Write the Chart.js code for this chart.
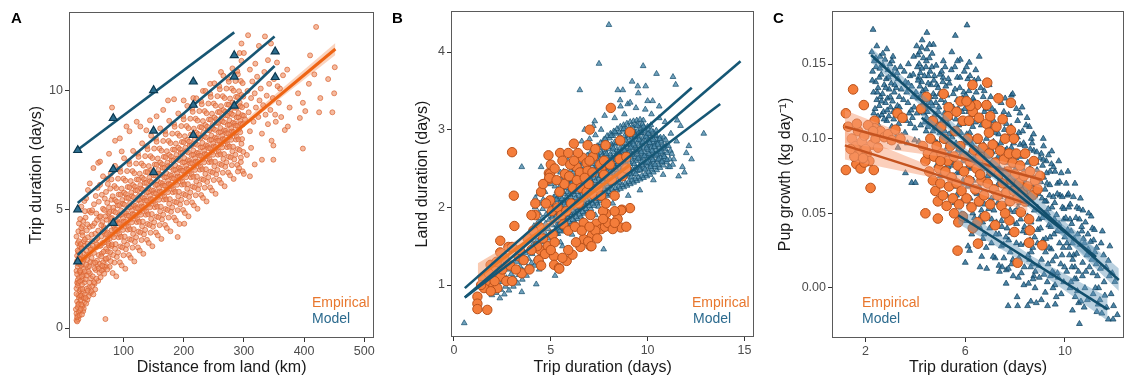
<!DOCTYPE html>
<html>
<head>
<meta charset="utf-8">
<script src="https://cdn.jsdelivr.net/npm/chart.js@4.4.1/dist/chart.umd.min.js"></script>
<style>
  body { margin: 0; background: #fff; width: 1130px; height: 379px; overflow: hidden; position: relative; font-family: "Liberation Sans", Arial, sans-serif; }
  canvas { position: absolute; top: 0; }
  .tag { position: absolute; font-weight: bold; font-size: 15px; line-height: 16px; color: #000; }
  .leg { position: absolute; font-size: 14px; line-height: 16px; }
  .emp { color: #e8772e; }
  .mod { color: #2b6a8e; }
</style>
</head>
<body>
<canvas id="chartA" width="380" height="379" style="left:0"></canvas>
<canvas id="chartB" width="380" height="379" style="left:380px"></canvas>
<canvas id="chartC" width="370" height="379" style="left:760px"></canvas>

<div class="tag" style="left:11px;top:10px">A</div>
<div class="tag" style="left:392px;top:10px">B</div>
<div class="tag" style="left:773px;top:10px">C</div>

<div class="leg emp" style="left:312px;top:294px">Empirical</div>
<div class="leg mod" style="left:312px;top:310px">Model</div>
<div class="leg emp" style="left:692px;top:294px">Empirical</div>
<div class="leg mod" style="left:693px;top:310px">Model</div>
<div class="leg emp" style="left:862px;top:294px">Empirical</div>
<div class="leg mod" style="left:862px;top:310px">Model</div>

<script>
// ---------- panel A : distance from land vs trip duration ----------
const xTicksA = [100, 200, 300, 400, 500];
const yTicksA = [0, 5, 10];

const empiricalA = [
  // near-shore trips (dense column)
  [22,0.33],[23,1.12],[22,2.41],[21,0.79],[23,3.05],[22,1.67],[24,0.52],[23,2.83],[25,1.39],[24,3.58],[22,0.61],[26,2.14],[25,0.37],[23,1.91],
  [24,2.59],[26,1.03],[25,3.21],[24,0.88],[27,1.56],[26,2.97],[25,4.08],[23,0.46],[27,2.36],[26,0.68],[24,1.79],[25,2.71],[27,3.44],[26,1.28],
  [22,3.86],[24,2.02],[23,0.28],[25,0.99],[27,0.53],[29,1.63],[31,1.29],[33,0.71],[35,1.92],[22,1.44],[24,3.27],[26,3.66],[28,1.34],[30,3.38],
  [32,2.06],[34,0.82],[26,4.41],[23,2.27],[27,2.92],[29,2.34],[31,4.03],[33,3.17],[35,3.48],[25,1.9],[28,2.71],[32,4.29],[34,2.89],
  [28,0.74],[30,2.63],[29,1.18],[31,3.37],[28,1.96],[32,0.94],[30,4.21],[29,2.88],[33,1.51],[31,0.57],[28,3.12],[34,2.27],[30,1.37],[32,3.91],
  [29,0.81],[33,2.49],[35,1.08],[31,1.83],[34,3.66],[28,2.42],[32,1.64],[35,2.96],[30,0.99],[33,4.52],[29,3.54],[31,2.18],[34,1.27],[32,2.71],
  [35,5.36],[30,5.12],[28,4.6],
  [36,1.41],[38,3.27],[37,2.06],[40,1.19],[39,4.12],[41,2.58],[36,3.74],[43,1.72],[38,1.03],[42,3.09],[44,2.31],[37,4.66],[40,2.87],[45,1.48],
  [39,1.66],[41,3.83],[43,2.61],[36,2.39],[44,4.27],[38,2.67],[42,1.34],[45,3.38],[40,3.55],[37,1.27],[43,4.94],[39,2.22],[41,1.58],[44,1.91],
  [42,2.38],[45,2.79],[38,5.47],[41,5.82],[44,6.1],[36,4.93],[40,4.37],
  [46,2.09],[48,3.66],[47,1.54],[50,2.74],[49,4.31],[52,1.87],[51,3.17],[46,4.87],[54,2.45],[53,3.98],[48,1.77],[55,3.41],[50,1.42],[57,2.61],
  [56,4.56],[47,2.96],[59,3.08],[52,2.52],[58,1.99],[51,5.22],[54,3.72],[60,2.33],[49,2.18],[56,2.84],[53,1.63],[58,4.11],[46,3.31],[57,3.79],
  [55,2.08],[60,4.68],[48,4.97],[52,4.42],[59,2.51],[51,1.93],[54,5.57],[50,6.75],[58,6.97],[47,3.94],[53,2.76],[56,3.53],[59,5.33],[55,4.83],
  [49,3.47],[57,5.91],[60,3.47],
  [61,2.71],[63,3.86],[62,2.14],[65,4.47],[64,3.14],[67,2.49],[66,5.03],[68,3.61],[70,2.87],[69,4.19],[71,3.33],[73,5.28],[72,2.61],[74,4.02],
  [76,3.48],[75,2.96],[78,4.63],[77,3.77],[79,2.82],[80,5.41],[62,4.71],[64,5.62],[66,2.77],[68,4.98],[70,3.94],[72,4.57],[74,3.23],[76,5.09],
  [78,3.19],[80,4.12],[63,3.02],[65,3.58],[67,4.26],[69,2.58],[71,5.74],[73,3.71],[75,4.84],[77,2.58],[79,4.41],[61,6.04],[64,2.42],[67,3.22],
  [70,0.38],[73,6.3],[76,7.35],[79,6.52],[81,9.3],[61,7.02],[66,6.4],[72,3.97],[75,3.56],[78,5.88],[68,2.29],[62,3.47],[65,2.63],[69,5.46],
  [71,2.93],[74,6.08],[77,4.89],[80,3.46],[63,4.34],[66,4.08],[70,4.71],[73,2.47],
  // main cloud
  [82,2.32],[83,3.08],[81,3.53],[82,3.94],[84,4.31],[81,4.64],[83,5.08],[82,5.56],[80,6.27],
  [85,2.76],[86,3.34],[84,3.83],[85,4.18],[87,4.55],[84,4.93],[86,5.4],[85,5.99],[86,7.9],
  [88,2.18],[89,3.0],[87,3.54],[88,4.16],[90,4.52],[87,4.88],[89,5.33],[88,5.9],[86,6.84],
  [91,3.19],[92,3.83],[90,4.07],[91,4.42],[93,4.76],[90,5.17],[92,5.63],[91,6.3],
  [94,2.77],[95,3.44],[93,3.96],[94,4.42],[96,4.78],[93,5.18],[95,5.63],[94,6.72],[94,8.0],
  [97,2.64],[98,3.4],[96,3.85],[97,4.26],[99,4.63],[96,4.96],[98,5.4],[97,5.88],[95,6.59],[97,7.45],
  [100,3.07],[101,3.65],[99,4.14],[100,4.49],[102,4.86],[99,5.24],[101,5.71],[100,6.3],
  [103,2.5],[104,3.32],[102,3.86],[103,4.48],[105,4.84],[102,5.2],[104,5.65],[103,6.22],[101,7.16],[105,8.5],
  [106,3.51],[107,4.15],[105,4.39],[106,4.74],[108,5.08],[105,5.49],[107,5.95],[106,6.62],
  [109,3.08],[110,3.75],[108,4.27],[109,4.73],[111,5.09],[108,5.49],[110,5.94],[109,7.03],[110,8.3],
  [112,2.96],[113,3.72],[111,4.17],[112,4.58],[114,4.95],[111,5.28],[113,5.72],[112,6.2],[110,6.91],
  [115,3.39],[116,3.97],[114,4.46],[115,4.81],[117,5.18],[114,5.56],[116,6.03],[115,6.62],
  [118,2.81],[119,3.63],[117,4.17],[118,4.79],[120,5.15],[117,5.51],[119,5.96],[118,6.53],[116,7.47],
  [121,3.83],[122,4.47],[120,4.71],[121,5.06],[123,5.4],[120,5.81],[122,6.27],[121,6.94],[122,8.7],
  [124,3.4],[125,4.07],[123,4.59],[124,5.05],[126,5.41],[123,5.81],[125,6.26],[124,7.35],
  [127,3.27],[128,4.03],[126,4.48],[127,4.89],[129,5.26],[126,5.59],[128,6.03],[127,6.51],[125,7.22],[128,8.5],
  [130,3.71],[131,4.29],[129,4.78],[130,5.13],[132,5.5],[129,5.88],[131,6.35],[130,6.94],
  [133,3.13],[134,3.95],[132,4.49],[133,5.11],[135,5.47],[132,5.83],[134,6.28],[133,6.85],[131,7.79],
  [136,4.14],[137,4.78],[135,5.02],[136,5.37],[138,5.71],[135,6.12],[137,6.58],[136,7.25],[138,8.34],
  [139,3.72],[140,4.39],[138,4.91],[139,5.37],[141,5.73],[138,6.13],[140,6.58],[139,7.67],
  [142,3.59],[143,4.35],[141,4.8],[142,5.21],[144,5.58],[141,5.91],[143,6.35],[142,6.83],[140,7.54],
  [145,4.02],[146,4.6],[144,5.09],[145,5.44],[147,5.81],[144,6.19],[146,6.66],[145,7.25],[144,8.76],
  [148,3.45],[149,4.27],[147,4.81],[148,5.43],[150,5.79],[147,6.15],[149,6.6],[148,7.17],[146,8.11],
  [151,4.46],[152,5.1],[150,5.34],[151,5.69],[153,6.03],[150,6.44],[152,6.9],[151,7.57],
  [154,4.03],[155,4.7],[153,5.22],[154,5.68],[156,6.04],[153,6.44],[155,6.89],[154,7.98],[155,8.93],
  [157,3.91],[158,4.67],[156,5.12],[157,5.53],[159,5.9],[156,6.23],[158,6.67],[157,7.15],[155,7.86],
  [160,4.34],[161,4.92],[159,5.41],[160,5.76],[162,6.13],[159,6.51],[161,6.98],[160,7.57],
  [163,3.76],[164,4.58],[162,5.12],[163,5.74],[165,6.1],[162,6.46],[164,6.91],[163,7.48],[161,8.42],
  [166,4.78],[167,5.42],[165,5.66],[166,6.01],[168,6.35],[165,6.76],[167,7.22],[166,7.89],[166,9.2],
  [169,4.35],[170,5.02],[168,5.54],[169,6.0],[171,6.36],[168,6.76],[170,7.21],[169,8.3],
  [172,4.22],[173,4.98],[171,5.43],[172,5.84],[174,6.21],[171,6.54],[173,6.98],[172,7.46],[170,8.17],[174,9.6],
  [175,4.66],[176,5.24],[174,5.73],[175,6.08],[177,6.45],[174,6.83],[176,7.3],[175,7.89],
  [178,4.08],[179,4.9],[177,5.44],[178,6.06],[180,6.42],[177,6.78],[179,7.23],[178,7.8],[176,8.74],
  [181,5.09],[182,5.73],[180,5.97],[181,6.32],[183,6.66],[180,7.07],[182,7.53],[181,8.2],[184,9.65],
  [184,4.66],[185,5.33],[183,5.85],[184,6.31],[186,6.67],[183,7.07],[185,7.52],[184,8.61],
  [187,4.54],[188,5.3],[186,5.75],[187,6.16],[189,6.53],[186,6.86],[188,7.3],[187,7.78],[185,8.49],[190,3.84],
  [190,4.97],[191,5.55],[189,6.04],[190,6.39],[192,6.76],[189,7.14],[191,7.61],[190,8.2],
  [193,4.39],[194,5.21],[192,5.75],[193,6.37],[195,6.73],[192,7.09],[194,7.54],[193,8.11],[191,9.05],
  [196,5.41],[197,6.05],[195,6.29],[196,6.64],[198,6.98],[195,7.39],[197,7.85],[196,8.52],
  [199,4.98],[200,5.65],[198,6.17],[199,6.63],[201,6.99],[198,7.39],[200,7.84],[199,8.93],[200,9.6],[201,4.4],
  [202,4.85],[203,5.61],[201,6.06],[202,6.47],[204,6.84],[201,7.17],[203,7.61],[202,8.09],[200,8.8],
  [205,5.29],[206,5.87],[204,6.36],[205,6.71],[207,7.08],[204,7.46],[206,7.93],[205,8.52],
  [208,4.71],[209,5.53],[207,6.07],[208,6.69],[210,7.05],[207,7.41],[209,7.86],[208,8.43],[206,9.37],
  [211,5.72],[212,6.36],[210,6.6],[211,6.95],[213,7.29],[210,7.7],[212,8.16],[211,8.83],
  [214,5.3],[215,5.97],[213,6.49],[214,6.95],[216,7.31],[213,7.71],[215,8.16],[214,9.25],
  [217,5.17],[218,5.93],[216,6.38],[217,6.79],[219,7.16],[216,7.49],[218,7.93],[217,8.41],[215,9.12],[216,9.7],
  [220,5.6],[221,6.18],[219,6.67],[220,7.02],[222,7.39],[219,7.77],[221,8.24],[220,8.83],
  [223,5.03],[224,5.85],[222,6.39],[223,7.01],[225,7.37],[222,7.73],[224,8.18],[223,8.75],[221,9.69],
  [226,6.04],[227,6.68],[225,6.92],[226,7.27],[228,7.61],[225,8.02],[227,8.48],[226,9.15],
  [229,5.61],[230,6.28],[228,6.8],[229,7.26],[231,7.62],[228,8.02],[230,8.47],[229,9.56],
  [232,5.49],[233,6.25],[231,6.7],[232,7.11],[234,7.48],[231,7.81],[233,8.25],[232,8.73],[230,9.44],[232,10.0],
  [235,5.92],[236,6.5],[234,6.99],[235,7.34],[237,7.71],[234,8.09],[236,8.56],[235,9.15],
  [238,5.34],[239,6.16],[237,6.7],[238,7.32],[240,7.68],[237,8.04],[239,8.49],[238,9.06],[236,10.0],
  [241,6.36],[242,7.0],[240,7.24],[241,7.59],[243,7.93],[240,8.34],[242,8.8],[241,9.47],
  [244,5.93],[245,6.6],[243,7.12],[244,7.58],[246,7.94],[243,8.34],[245,8.79],[244,9.88],[244,10.3],
  [247,5.8],[248,6.56],[246,7.01],[247,7.42],[249,7.79],[246,8.12],[248,8.56],[247,9.04],[245,9.75],
  [250,6.24],[251,6.82],[249,7.31],[250,7.66],[252,8.03],[249,8.41],[251,8.88],[250,9.47],
  [253,5.66],[254,6.48],[252,7.02],[253,7.64],[255,8.0],[252,8.36],[254,8.81],[253,9.38],[251,10.32],
  [256,6.67],[257,7.31],[255,7.55],[256,7.9],[258,8.24],[255,8.65],[257,9.11],[256,9.78],
  [259,6.25],[260,6.92],[258,7.44],[259,7.9],[261,8.26],[258,8.66],[260,9.11],[259,10.2],
  [262,6.12],[263,6.88],[261,7.33],[262,7.74],[264,8.11],[261,8.44],[263,8.88],[262,9.36],[260,10.07],[262,10.8],
  [265,6.55],[266,7.13],[264,7.62],[265,7.97],[267,8.34],[264,8.72],[266,9.19],[265,9.78],
  [268,5.98],[269,6.8],[267,7.34],[268,7.96],[270,8.32],[267,8.68],[269,9.13],[268,9.7],[266,10.64],
  [271,6.99],[272,7.63],[270,7.87],[271,8.22],[273,8.56],[270,8.97],[272,9.43],[271,10.1],
  [274,6.56],[275,7.23],[273,7.75],[274,8.21],[276,8.57],[273,8.97],[275,9.42],[274,10.51],
  [277,6.44],[278,7.2],[276,7.65],[277,8.06],[279,8.43],[276,8.76],[278,9.2],[277,9.68],[275,10.39],
  [280,6.87],[281,7.45],[279,7.94],[280,8.29],[282,8.66],[279,9.04],[281,9.51],[280,10.1],
  [283,6.29],[284,7.11],[282,7.65],[283,8.27],[285,8.63],[282,8.99],[284,9.44],[283,10.01],[281,10.95],
  [286,7.31],[287,7.95],[285,8.19],[286,8.54],[288,8.88],[285,9.29],[287,9.75],[286,10.42],
  [289,6.88],[290,7.55],[288,8.07],[289,8.53],[291,8.89],[288,9.29],[290,9.74],[289,10.83],
  [292,6.75],[293,7.51],[291,7.96],[292,8.37],[294,8.74],[291,9.07],[293,9.51],[292,9.99],[290,10.7],[293,11.6],
  [295,7.19],[296,7.77],[294,8.26],[295,8.61],[297,8.98],[294,9.36],[296,9.83],[295,10.42],
  [298,6.61],[299,7.43],[297,7.97],[298,8.59],[300,8.95],[297,9.31],[299,9.76],[298,10.33],[296,11.27],[296,12.0],
  // far-offshore trips
  [307,12.35],[335,12.3],[319,11.15],[372,10.9],[365,10.66],[376,9.3],[368,8.35],[373,8.5],[353,8.7],[349,7.1],[330,7.1],[349,7.7],
  [420,12.7],[451,11.0],[450,9.9],[447,9.1],[440,10.5],[425,9.1],[427,9.7],[410,11.5],[417,10.7],[408,10.3],[398,7.57],[402,9.15],[390,9.9],[393,8.86],[398,9.5],
  [302,8.8],[304,9.4],[306,10.0],[308,9.1],[310,8.3],[312,9.7],[314,10.4],[316,8.7],[318,9.9],[320,9.3],[322,10.6],[324,8.9],[326,9.6],[328,10.1],[330,8.2],
  [332,9.4],[334,10.8],[336,9.0],[338,9.8],[340,8.6],[342,10.3],[344,9.2],[346,7.9],[348,9.7],[350,10.5],[352,9.0],[355,11.2],[358,9.5],[360,10.1],[362,8.9],
  [300,11.6],[310,10.9],[325,11.9],[340,11.3],[345,12.0],[356,10.2],[312,7.6],[305,7.3],[318,6.9],[300,6.5],[310,6.4],[290,6.6],[295,7.0]
];
const modelA = [
  [24,7.5],[24,5.0],[24,2.8],[83,8.85],[83,6.7],[83,4.43],[150,10.03],[150,8.32],[150,6.57],
  [216,10.39],[216,9.41],[216,8.14],[284,11.5],[284,10.6],[284,9.37],[352,11.66],[352,10.58]
];
const empLineA = [[25,2.75],[452,11.77]];
const empBandLowA = [[25,2.58],[240,7.28],[452,11.52]];
const empBandHighA = [[25,2.92],[240,7.42],[452,12.02]];
const modLinesA = [
  [[24,7.52],[284,12.47]],
  [[24,5.27],[351,12.3]],
  [[24,3.08],[351,11.05]]
];

// ---------- panel B : trip duration vs land duration ----------
const xTicksB = [0, 5, 10, 15];
const yTicksB = [1, 2, 3, 4];

const modelB = [
  [0.53,0.51],[3.5,0.91],[4.25,1.01],[5.22,1.12],[3.98,1.23],[4.4,1.2],[7.73,1.46],[8.0,4.35],[7.49,3.85],[9.77,3.82],[10.46,3.72],[11.31,3.68],
  [11.45,3.58],[9.2,3.62],[9.49,3.56],[9.9,3.56],[6.5,3.51],[8.46,3.51],[8.72,3.51],[9.52,3.47],[8.58,3.38],[8.97,3.33],[10.0,3.37],[10.26,3.37],
  [9.88,3.26],[7.27,3.11],[7.78,3.18],[6.75,3.0],[11.53,3.12],[11.7,3.05],[12.9,2.95],[12.13,2.79],[12.27,2.62],[11.8,2.52],[11.07,2.52],[3.5,2.52],[4.5,2.52],
  [1.72,0.93],[1.85,1.01],[1.96,0.87],[2.04,0.96],[2.11,1.07],[2.18,0.9],[2.26,1.0],[2.3,1.12],[2.37,0.83],[2.42,0.94],[2.49,1.04],[2.53,1.17],
  [2.6,0.88],[2.66,0.98],[2.71,1.09],[2.77,1.2],[2.84,0.93],[2.9,1.03],[2.95,1.14],[3.01,1.26],[3.07,0.98],[3.13,1.08],[3.18,1.19],[3.24,1.3],
  [3.3,1.02],[3.36,1.13],[3.41,1.24],[3.47,1.36],[3.53,1.07],[3.58,1.18],[3.63,1.29],[3.69,1.41],[3.75,1.12],[3.8,1.23],[3.85,1.34],[3.91,1.46],[3.96,1.58],[4.0,1.28],
  [4.04,1.4],[4.07,1.52],[4.1,1.64],[4.13,1.76],[4.16,1.88],[4.19,2.0],[4.22,1.33],[4.25,1.45],[4.28,1.57],[4.31,1.69],[4.34,1.81],[4.37,1.93],[4.4,2.05],
  [4.43,1.38],[4.46,1.5],[4.49,1.62],[4.52,1.74],[4.55,1.86],[4.58,1.98],[4.61,2.1],[4.64,1.43],[4.67,1.55],[4.7,1.67],[4.73,1.79],[4.76,1.91],[4.79,2.03],
  [4.82,1.48],[4.85,1.6],[4.88,1.72],[4.91,1.84],[4.94,1.96],[4.97,2.08],[5.0,1.53],[5.03,1.65],[5.06,1.77],[5.09,1.89],[5.12,2.01],[5.15,2.13],[4.2,2.12],[4.35,2.17],[4.15,1.25],[4.5,1.32],
  [5.2,1.6],[5.24,1.71],[5.18,1.82],[5.22,1.93],[5.19,2.04],[5.25,2.15],[5.21,2.27],
  [5.37,1.66],[5.4,1.77],[5.34,1.88],[5.39,1.99],[5.35,2.1],[5.41,2.21],[5.36,2.32],
  [5.54,1.69],[5.57,1.8],[5.51,1.91],[5.56,2.02],[5.52,2.13],[5.58,2.24],[5.53,2.36],
  [5.71,1.72],[5.74,1.84],[5.68,1.95],[5.73,2.06],[5.69,2.17],[5.75,2.28],[5.7,2.4],
  [5.88,1.75],[5.91,1.87],[5.85,1.98],[5.9,2.09],[5.86,2.2],[5.92,2.31],[5.87,2.44],
  [6.05,1.78],[6.08,1.9],[6.02,2.01],[6.07,2.12],[6.03,2.23],[6.09,2.35],[6.04,2.48],
  [6.22,1.82],[6.25,1.93],[6.19,2.05],[6.24,2.16],[6.2,2.27],[6.26,2.39],[6.21,2.51],
  [6.39,1.85],[6.42,1.97],[6.36,2.08],[6.41,2.2],[6.37,2.31],[6.43,2.43],[6.38,2.55],
  [6.56,1.88],[6.59,2.0],[6.53,2.12],[6.58,2.23],[6.54,2.35],[6.6,2.47],[6.55,2.59],
  [6.73,1.92],[6.76,2.04],[6.7,2.15],[6.75,2.27],[6.71,2.39],[6.77,2.51],[6.72,2.63],
  [6.9,1.95],[6.93,2.07],[6.87,2.19],[6.92,2.31],[6.88,2.43],[6.94,2.55],[6.89,2.67],
  [7.07,1.98],[7.1,2.1],[7.04,2.22],[7.09,2.34],[7.05,2.46],[7.11,2.58],[7.06,2.71],
  [7.24,2.02],[7.27,2.14],[7.21,2.26],[7.26,2.38],[7.22,2.5],[7.28,2.62],[7.23,2.75],
  [7.41,2.05],[7.44,2.17],[7.38,2.29],[7.43,2.41],[7.39,2.53],[7.45,2.66],[7.4,2.79],
  [7.58,2.08],[7.61,2.2],[7.55,2.32],[7.6,2.44],[7.56,2.57],[7.62,2.7],[7.57,2.83],
  [7.75,2.12],[7.78,2.24],[7.72,2.36],[7.77,2.48],[7.73,2.61],[7.79,2.74],[7.74,2.87],
  [7.92,2.15],[7.95,2.27],[7.89,2.39],[7.94,2.52],[7.9,2.65],[7.96,2.78],[7.91,2.92],
  [8.09,2.17],[8.12,2.3],[8.06,2.42],[8.11,2.55],[8.07,2.68],[8.13,2.81],[8.08,2.95],
  [8.26,2.2],[8.29,2.32],[8.23,2.45],[8.28,2.58],[8.24,2.71],[8.3,2.84],[8.25,2.98],
  [8.43,2.22],[8.46,2.35],[8.4,2.48],[8.45,2.61],[8.41,2.74],[8.47,2.87],[8.42,3.01],
  [8.6,2.24],[8.63,2.37],[8.57,2.5],[8.62,2.63],[8.58,2.76],[8.64,2.89],[8.59,3.04],
  [8.77,2.26],[8.8,2.39],[8.74,2.52],[8.79,2.65],[8.75,2.78],[8.81,2.92],[8.76,3.06],
  [8.94,2.28],[8.97,2.41],[8.91,2.54],[8.96,2.67],[8.92,2.8],[8.98,2.94],[8.93,3.08],
  [9.11,2.3],[9.14,2.43],[9.08,2.56],[9.13,2.69],[9.09,2.82],[9.15,2.96],[9.1,3.1],
  [9.28,2.32],[9.31,2.45],[9.25,2.58],[9.3,2.71],[9.26,2.84],[9.32,2.97],[9.27,3.11],
  [9.45,2.34],[9.48,2.47],[9.42,2.6],[9.47,2.73],[9.43,2.86],[9.49,2.99],[9.44,3.12],
  [9.62,2.36],[9.65,2.49],[9.59,2.62],[9.64,2.75],[9.6,2.88],[9.66,3.01],[9.61,3.13],
  [9.79,2.38],[9.82,2.51],[9.76,2.64],[9.81,2.77],[9.77,2.9],[9.83,3.02],[9.78,3.12],
  [9.96,2.4],[9.99,2.53],[9.93,2.66],[9.98,2.79],[9.94,2.92],[10.0,3.04],
  [10.13,2.42],[10.16,2.55],[10.1,2.68],[10.15,2.81],[10.11,2.94],[10.17,3.06],
  [10.3,2.45],[10.33,2.58],[10.27,2.71],[10.32,2.84],[10.28,2.97],
  [10.47,2.48],[10.5,2.61],[10.44,2.74],[10.49,2.87],[10.45,2.99],
  [10.64,2.51],[10.67,2.64],[10.61,2.77],[10.66,2.9],
  [10.81,2.54],[10.84,2.67],[10.78,2.8],[10.83,2.9],
  [10.98,2.58],[11.01,2.7],[10.95,2.8],[11.15,2.62],[11.18,2.73],
  [5.29,1.66],[5.31,1.77],[5.27,1.88],[5.3,1.99],[5.28,2.1],[5.32,2.21],
  [5.46,1.7],[5.48,1.83],[5.44,1.94],[5.47,2.05],[5.45,2.16],[5.49,2.28],
  [5.63,1.74],[5.65,1.86],[5.61,1.97],[5.64,2.08],[5.62,2.2],[5.66,2.32],
  [5.8,1.78],[5.82,1.9],[5.78,2.01],[5.81,2.13],[5.79,2.25],[5.83,2.37],
  [5.97,1.81],[5.99,1.93],[5.95,2.05],[5.98,2.17],[5.96,2.29],[6.0,2.41],
  [6.14,1.84],[6.16,1.96],[6.12,2.08],[6.15,2.2],[6.13,2.32],[6.17,2.45],
  [6.31,1.88],[6.33,2.0],[6.29,2.12],[6.32,2.24],[6.3,2.36],[6.34,2.49],
  [6.48,1.91],[6.5,2.03],[6.46,2.15],[6.49,2.28],[6.47,2.4],[6.51,2.53],
  [6.65,1.94],[6.67,2.06],[6.63,2.19],[6.66,2.32],[6.64,2.44],[6.68,2.57],
  [6.82,1.98],[6.84,2.1],[6.8,2.23],[6.83,2.36],[6.81,2.48],[6.85,2.61],
  [6.99,2.02],[7.01,2.14],[6.97,2.27],[7.0,2.4],[6.98,2.52],[7.02,2.65],
  [7.16,2.05],[7.18,2.18],[7.14,2.31],[7.17,2.44],[7.15,2.56],[7.19,2.69],
  [7.33,2.08],[7.35,2.21],[7.31,2.34],[7.34,2.47],[7.32,2.6],[7.36,2.73],
  [7.5,2.11],[7.52,2.24],[7.48,2.37],[7.51,2.5],[7.49,2.63],[7.53,2.77],
  [7.67,2.14],[7.69,2.27],[7.65,2.4],[7.68,2.53],[7.66,2.67],[7.7,2.81],
  [7.84,2.17],[7.86,2.3],[7.82,2.43],[7.85,2.57],[7.83,2.71],[7.87,2.85],
  [8.01,2.2],[8.03,2.33],[7.99,2.47],[8.02,2.61],[8.0,2.75],[8.04,2.89],
  [8.18,2.23],[8.2,2.36],[8.16,2.5],[8.19,2.64],[8.17,2.78],[8.21,2.92],
  [8.35,2.25],[8.37,2.39],[8.33,2.53],[8.36,2.67],[8.34,2.81],[8.38,2.95],
  [8.52,2.27],[8.54,2.41],[8.5,2.55],[8.53,2.69],[8.51,2.83],[8.55,2.97],
  [8.69,2.29],[8.71,2.43],[8.67,2.57],[8.7,2.71],[8.68,2.85],[8.72,2.99],
  [8.86,2.31],[8.88,2.45],[8.84,2.59],[8.87,2.73],[8.85,2.87],[8.89,3.01],
  [9.03,2.33],[9.05,2.47],[9.01,2.61],[9.04,2.75],[9.02,2.89],[9.06,3.03],
  [9.2,2.35],[9.22,2.49],[9.18,2.63],[9.21,2.77],[9.19,2.91],[9.23,3.05],
  [9.37,2.37],[9.39,2.51],[9.35,2.65],[9.38,2.79],[9.36,2.93],[9.4,3.06],
  [9.54,2.39],[9.56,2.53],[9.52,2.67],[9.55,2.81],[9.53,2.95],[9.57,3.07],
  [9.71,2.41],[9.73,2.55],[9.69,2.69],[9.72,2.83],[9.7,2.96],[9.74,3.07],
  [9.88,2.43],[9.9,2.57],[9.86,2.71],[9.89,2.85],[9.87,2.98],
  [10.05,2.46],[10.07,2.6],[10.03,2.74],[10.06,2.87],[10.04,3.0],
  [10.22,2.49],[10.24,2.63],[10.2,2.77],[10.23,2.9],
  [10.39,2.52],[10.41,2.66],[10.37,2.8],[10.4,2.92],
  [10.56,2.55],[10.58,2.69],[10.54,2.83],[10.73,2.58],[10.75,2.72],[10.71,2.85],[10.9,2.62],[10.92,2.75],
  [5.6,1.5],[6.1,1.65],[6.8,1.8],[7.3,1.9],[8.2,2.05],[9.0,2.15],[9.6,2.22],[10.3,2.35],[10.8,2.42],[11.3,2.55],[11.5,2.85],[11.2,2.95],
  [10.9,3.1],[10.6,3.15],[10.2,3.2],[9.4,3.28],[8.8,3.2],[8.3,3.15],[7.6,3.0],[7.0,2.88],[6.3,2.7],[5.9,2.6],[5.5,2.45],[5.0,2.3],
  [4.7,2.2],[6.6,2.85],[7.2,3.05],[8.6,3.3],[9.1,3.35],[10.6,3.3],[12.0,2.7],[11.9,2.45],[11.6,2.4],[4.9,1.4],[5.5,1.55],[3.2,1.45],[2.7,1.3],
  [7.52,2.58],[7.57,2.41],[7.63,2.77],[7.68,2.33],[7.71,2.64],[7.76,2.51],[7.81,2.88],[7.85,2.44],[7.88,2.69],[7.93,2.36],[7.97,2.81],[8.03,2.58],
  [8.07,2.47],[8.11,2.92],[8.15,2.63],[8.19,2.39],[8.23,2.76],[8.27,2.52],[8.31,2.97],[8.35,2.61],[8.38,2.43],[8.42,2.83],[8.46,2.56],[8.5,2.71],
  [8.54,2.32],[8.57,2.91],[8.61,2.66],[8.65,2.47],[8.69,2.82],[8.73,2.59],[8.77,3.01],[8.8,2.73],[8.84,2.41],[8.88,2.86],[8.92,2.62],[8.96,2.97],
  [9.0,2.7],[9.04,2.51],[9.08,2.93],[9.12,2.77],[9.16,2.39],[9.2,2.68],[9.24,3.02],[9.27,2.81],[9.31,2.56],[9.35,2.91],[9.39,2.43],[9.43,2.74],
  [9.47,3.05],[9.51,2.63],[9.55,2.87],[9.59,2.48],[9.63,2.96],[9.67,2.71],[9.71,2.59],[9.75,2.84],[9.79,3.04],[9.83,2.66],[9.87,2.49],[9.91,2.91],
  [9.95,2.76],[9.99,2.58],[10.03,2.95],[10.07,2.69],[10.11,2.83],[10.15,2.52],[10.19,2.99],[10.23,2.73],[10.27,2.61],[10.31,2.87],[10.35,2.78],
  [10.39,2.55],[10.43,2.93],[10.47,2.68],[10.52,2.81],[10.57,2.62],[10.62,2.88],[10.68,2.71],[10.74,2.59],[10.8,2.77],[10.86,2.65],[10.93,2.87],
  [11.0,2.61],[11.08,2.79],[11.15,2.52],[11.25,2.69],[11.35,2.62],
  [5.07,1.87],[5.33,1.74],[5.58,2.11],[5.83,1.93],[6.06,2.31],[6.29,1.99],[6.51,2.37],[6.72,2.09],[6.96,2.45],[7.18,2.21],[7.39,2.62],
  [6.18,1.73],[6.63,1.83],[7.08,1.91],[7.46,2.01],[5.66,2.46],[6.11,2.57],[6.58,2.69],[7.04,2.79],[7.31,2.93]
];
const empiricalB = [
  [3.0,2.71],[3.09,2.15],[3.12,1.76],[1.21,0.85],[1.21,0.76],[1.21,0.69],[1.72,0.68],[2.39,1.57],[2.39,1.42],[4.88,2.67],[5.48,2.7],[6.19,2.82],
  [7.01,3.0],[8.1,3.28],[9.09,2.97],[8.58,2.86],[9.09,1.99],[8.61,1.74],[8.67,1.97],[5.17,1.37],[5.17,1.26],[5.42,1.22],[5.82,1.31],[6.12,1.39],
  [6.53,1.49],[7.05,1.5],[6.7,1.59],[7.13,1.64],[3.5,1.15],[2.81,1.49],[3.33,1.37],
  [4.9,2.44],[4.9,2.36],[3.0,1.49],[1.89,1.26],[2.24,1.26],[2.06,1.19],[2.4,1.11],[1.72,1.02],[2.03,0.98],[1.55,0.96],[2.24,0.96],[4.37,1.32],
  [4.45,1.45],[5.44,1.21],[6.93,1.56],[7.1,1.5],[7.35,1.79],[7.6,1.72],[7.8,1.75],[8.63,1.96],[7.86,1.92],[4.96,2.09],
  [7.83,2.8],[7.18,2.65],[6.64,2.64],[6.33,2.52],[6.85,2.57],[7.0,2.6],[6.5,2.45],[6.9,2.47],[7.6,2.5],[7.75,2.42],[4.96,2.43],[5.73,2.43],[4.92,2.38],
  [4.4,1.75],[4.6,1.6],[4.75,2.05],[4.85,1.5],[5.05,1.95],[5.1,1.65],[5.2,1.55],[5.35,2.0],[5.45,2.2],[5.55,1.9],[5.65,1.78],[5.7,2.3],
  [5.8,1.95],[5.9,1.7],[5.95,2.4],[6.05,2.05],[6.15,2.25],[6.25,1.75],[6.35,2.35],[6.45,2.05],[6.55,2.25],[6.7,1.8],[6.75,2.38],[6.85,2.2],
  [6.95,2.3],[7.05,1.9],[7.15,2.45],[7.25,2.15],[7.3,1.7],[7.45,2.25],[7.55,2.55],[7.6,2.15],[7.7,1.95],[7.75,2.6],[7.85,2.05],[7.95,1.8],
  [8.05,2.55],[8.15,2.35],[8.2,1.72],[8.3,2.15],[8.45,1.85],[8.55,2.62],[8.7,2.4],[8.9,2.5],
  [4.3,1.5],[4.5,1.25],[4.7,1.4],[5.0,1.45],[5.6,1.35],[5.9,1.45],[6.3,1.55],[6.6,1.7],[7.0,1.75],[7.4,1.6],[7.7,1.85],[8.3,1.8],[8.9,1.75],[8.3,1.95],
  [1.5,1.08],[1.8,1.15],[2.1,1.05],[2.5,1.2],[2.6,1.35],[2.9,1.25],[3.2,1.2],[3.4,1.45],[3.6,1.32],[3.8,1.6],[4.0,1.45],[4.1,1.7],[4.2,1.9],
  [2.2,1.3],[1.9,0.92],[1.4,1.0],[2.7,1.05],[3.0,1.05],[3.9,1.2],[4.2,2.05],[4.5,2.2],[4.0,1.9],
  [5.0,2.55],[5.3,2.35],[5.6,2.6],[6.0,2.55],[6.4,2.7],[6.9,2.8],[7.3,2.75],[5.2,2.5],[4.6,2.3],[5.9,2.7],[6.2,2.6],[8.9,2.65]
];
const empLineB = [[1.23,1.1],[9.1,2.55]];
const empBandLowB = [[1.23,0.96],[5.2,1.79],[9.1,2.47]];
const empBandHighB = [[1.23,1.28],[5.2,1.87],[9.1,2.64]];
const modLinesB = [
  [[0.56,0.96],[12.28,3.54]],
  [[0.56,0.84],[14.8,3.88]],
  [[0.56,0.84],[13.75,3.33]]
];

// ---------- panel C : trip duration vs pup growth ----------
const xTicksC = [2, 6, 10];
const yTicksC = [0, 0.05, 0.10, 0.15];

const modelC = [
  [2.3,0.173],[2.25,0.158],[2.35,0.152],[2.28,0.145],[2.4,0.138],[2.32,0.131],[2.45,0.126],[2.38,0.12],[2.5,0.115],[2.42,0.148],[2.55,0.141],
  [2.5,0.134],[2.6,0.128],[2.55,0.122],[2.65,0.116],[2.58,0.155],[2.7,0.149],[2.63,0.143],[2.75,0.136],[2.68,0.13],[2.8,0.124],[2.72,0.118],
  [2.85,0.112],[2.78,0.153],[2.9,0.146],[2.83,0.14],[2.95,0.133],[2.88,0.127],[3.0,0.121],[2.93,0.115],[3.05,0.108],[2.98,0.15],[3.1,0.143],
  [3.03,0.137],[3.15,0.131],[3.08,0.125],[3.2,0.119],[3.13,0.113],[3.25,0.105],[3.18,0.147],[3.3,0.14],[3.23,0.134],[3.35,0.128],[3.28,0.122],
  [3.4,0.116],[3.33,0.11],[3.45,0.102],[2.45,0.162],[2.85,0.16],[3.1,0.155],[3.4,0.148],[2.35,0.108],[2.6,0.104],[3.0,0.098],[3.3,0.094],
  [2.27,0.139],[2.33,0.117],[2.41,0.154],[2.47,0.131],[2.52,0.109],[2.57,0.147],[2.64,0.125],[2.69,0.157],[2.74,0.113],[2.81,0.134],[2.87,0.119],
  [2.92,0.141],[2.99,0.128],[3.06,0.152],[3.11,0.118],[3.17,0.136],[3.22,0.101],[3.27,0.144],[3.36,0.121],[3.43,0.133],
  [3.85,0.0705],[4.0,0.0705],[3.6,0.077],
  [3.55,0.145],[3.6,0.138],[3.65,0.131],[3.7,0.124],[3.75,0.117],[3.8,0.11],[3.58,0.104],[3.68,0.097],[3.78,0.142],[3.85,0.135],[3.9,0.128],
  [3.95,0.121],[3.88,0.114],[3.98,0.107],[3.72,0.15],[3.93,0.155],[3.52,0.126],[3.63,0.112],[3.71,0.137],[3.83,0.119],[3.91,0.143],[3.97,0.099],
  [4.05,0.162],[4.1,0.156],[4.15,0.15],[4.2,0.144],[4.25,0.138],[4.3,0.132],[4.35,0.126],[4.4,0.12],[4.45,0.114],[4.5,0.108],[4.08,0.148],
  [4.13,0.141],[4.18,0.135],[4.23,0.129],[4.28,0.123],[4.33,0.117],[4.38,0.111],[4.43,0.105],[4.12,0.127],[4.22,0.118],[4.32,0.154],[4.42,0.148],
  [4.52,0.142],[4.62,0.136],[4.72,0.13],[4.82,0.124],[4.92,0.118],[4.46,0.16],[4.56,0.154],[4.66,0.148],[4.76,0.142],[4.86,0.136],[4.96,0.13],
  [4.58,0.128],[4.68,0.122],[4.78,0.116],[4.88,0.11],[4.98,0.104],[4.6,0.112],[4.7,0.105],[4.8,0.098],[4.9,0.092],[4.72,0.163],[4.25,0.161],
  [4.46,0.171],[4.52,0.124],[4.65,0.09],[4.85,0.082],[5.0,0.075],[4.75,0.072],
  [4.02,0.131],[4.06,0.117],[4.11,0.139],[4.17,0.158],[4.21,0.109],[4.26,0.147],[4.29,0.121],[4.36,0.142],[4.41,0.133],[4.44,0.152],[4.48,0.118],
  [4.51,0.137],[4.55,0.101],[4.59,0.145],[4.63,0.124],[4.67,0.157],[4.71,0.113],[4.74,0.139],[4.79,0.128],[4.83,0.149],[4.87,0.097],[4.91,0.134],
  [4.94,0.121],[4.99,0.143],[4.14,0.098],[4.39,0.094],[4.57,0.163],[4.81,0.107],[4.27,0.166],[4.69,0.087],
  [5.6,0.169],[5.05,0.145],[5.1,0.138],[5.15,0.131],[5.2,0.124],[5.25,0.117],[5.3,0.11],[5.35,0.103],[5.4,0.096],[5.45,0.089],[5.5,0.082],
  [5.55,0.075],[5.6,0.068],[5.08,0.112],[5.18,0.105],[5.28,0.098],[5.38,0.091],[5.48,0.084],[5.58,0.148],[5.68,0.141],[5.78,0.134],[5.88,0.127],
  [5.98,0.12],[5.12,0.152],[5.32,0.14],[5.52,0.13],[5.72,0.12],[5.92,0.11],[5.62,0.113],[5.82,0.104],[5.7,0.092],[5.9,0.085],[5.75,0.077],
  [5.95,0.07],[5.65,0.062],[5.85,0.058],[5.42,0.122],[5.22,0.135],[5.96,0.145],[5.8,0.153],[5.4,0.07],[5.2,0.08],[5.1,0.09],
  [5.03,0.126],[5.07,0.099],[5.11,0.141],[5.16,0.117],[5.19,0.148],[5.24,0.093],[5.27,0.129],[5.31,0.081],[5.36,0.137],[5.39,0.114],[5.44,0.146],
  [5.47,0.101],[5.51,0.121],[5.55,0.087],[5.59,0.133],[5.63,0.097],[5.67,0.126],[5.71,0.078],[5.74,0.109],[5.79,0.141],[5.83,0.09],[5.87,0.118],
  [5.91,0.072],[5.94,0.131],[5.98,0.097],[5.26,0.062],[5.57,0.057],[5.84,0.049],[5.46,0.158],[5.69,0.152],
  [6.07,0.176],[6.0,0.017],[6.17,0.025],[6.59,0.014],[6.05,0.148],[6.1,0.14],[6.15,0.132],[6.2,0.124],[6.25,0.116],[6.3,0.108],[6.35,0.1],
  [6.4,0.092],[6.45,0.084],[6.5,0.076],[6.55,0.068],[6.6,0.06],[6.65,0.052],[6.7,0.044],[6.75,0.036],[6.08,0.112],[6.18,0.104],[6.28,0.096],
  [6.38,0.088],[6.48,0.08],[6.58,0.072],[6.68,0.064],[6.78,0.056],[6.88,0.048],[6.98,0.04],[6.12,0.088],[6.22,0.08],[6.32,0.072],[6.42,0.064],
  [6.52,0.056],[6.62,0.048],[6.72,0.128],[6.82,0.12],[6.92,0.112],[6.62,0.134],[6.52,0.14],[6.42,0.146],[6.85,0.1],[6.95,0.092],[6.9,0.075],
  [6.8,0.082],[6.3,0.05],[6.4,0.04],[6.2,0.06],[6.1,0.068],[6.05,0.045],[6.35,0.125],
  [6.02,0.129],[6.06,0.103],[6.09,0.081],[6.13,0.118],[6.16,0.056],[6.19,0.142],[6.23,0.092],[6.27,0.069],[6.31,0.127],[6.34,0.084],[6.37,0.047],
  [6.41,0.111],[6.44,0.131],[6.47,0.063],[6.51,0.098],[6.54,0.123],[6.57,0.041],[6.61,0.087],[6.64,0.109],[6.67,0.071],[6.71,0.033],[6.74,0.096],
  [6.77,0.118],[6.81,0.061],[6.84,0.027],[6.87,0.089],[6.91,0.124],[6.94,0.053],[6.97,0.107],[6.99,0.071],[6.26,0.036],[6.46,0.029],[6.66,0.021],
  [6.86,0.013],[6.16,0.151],[6.36,0.139],[6.56,0.155],[6.76,0.132],[6.96,0.136],[6.11,0.028],
  [7.02,0.128],[7.08,0.12],[7.14,0.112],[7.2,0.104],[7.26,0.096],[7.32,0.088],[7.38,0.08],[7.44,0.072],[7.5,0.064],[7.56,0.056],[7.62,0.048],
  [7.68,0.04],[7.74,0.032],[7.8,0.024],[7.86,0.016],[7.92,0.008],[7.05,0.06],[7.15,0.052],[7.25,0.044],[7.35,0.036],[7.45,0.028],[7.55,0.02],
  [7.65,0.012],[7.1,0.085],[7.2,0.077],[7.3,0.069],[7.4,0.061],[7.5,0.1],[7.6,0.092],[7.7,0.084],[7.8,0.076],[7.9,0.068],[7.55,0.118],
  [7.65,0.11],[7.75,0.102],[7.85,0.094],[7.95,0.086],[7.6,0.127],[7.85,0.129],[7.7,0.06],[7.8,0.052],[7.9,0.044],[7.95,0.036],[7.72,-0.012],
  [7.45,0.045],[7.35,0.015],[7.05,0.03],[7.2,0.02],
  [7.03,0.109],[7.06,0.046],[7.09,0.091],[7.12,0.021],[7.16,0.067],[7.19,0.118],[7.23,0.036],[7.27,0.081],[7.31,0.057],[7.34,0.103],[7.37,0.011],
  [7.41,0.073],[7.44,0.124],[7.47,0.041],[7.51,0.087],[7.54,0.029],[7.57,0.106],[7.61,0.066],[7.64,0.003],[7.67,0.093],[7.71,0.049],[7.74,0.116],
  [7.77,0.071],[7.81,0.037],[7.84,0.108],[7.87,0.058],[7.91,0.019],[7.94,0.097],[7.97,0.051],[7.99,0.079],[7.13,0.098],[7.29,0.128],[7.42,0.097],
  [7.58,0.079],[7.73,0.013],[7.88,0.082],[7.22,0.061],[7.48,0.014],[7.63,0.034],[7.79,0.124],
  [7.9,0.13],[8.05,0.12],[8.1,0.112],[8.15,0.104],[8.2,0.096],[8.25,0.088],[8.3,0.08],[8.35,0.072],[8.4,0.064],[8.45,0.056],[8.5,0.048],
  [8.55,0.04],[8.6,0.032],[8.65,0.024],[8.7,0.016],[8.75,0.008],[8.8,0.0],[8.02,0.062],[8.12,0.054],[8.22,0.046],[8.32,0.038],[8.42,0.03],
  [8.52,0.022],[8.62,0.014],[8.72,0.006],[8.05,0.03],[8.15,0.02],[8.25,0.01],[8.35,0.002],[8.1,-0.012],[8.5,-0.012],[8.85,-0.01],[8.57,0.108],
  [8.65,0.1],[8.75,0.092],[8.85,0.084],[8.95,0.076],[8.7,0.07],[8.8,0.062],[8.9,0.054],[8.95,0.046],[8.9,0.03],[8.95,0.015],[8.3,0.105],
  [8.45,0.09],[8.6,0.08],[8.2,0.075],[8.4,0.095],
  [8.03,0.087],[8.06,0.043],[8.09,0.101],[8.13,0.007],[8.16,0.066],[8.19,0.117],[8.23,0.029],[8.27,0.083],[8.31,0.051],[8.34,0.097],[8.37,0.014],
  [8.41,0.071],[8.44,0.109],[8.47,0.037],[8.51,0.084],[8.54,0.003],[8.57,0.061],[8.61,0.093],[8.64,0.044],[8.67,0.076],[8.71,0.027],[8.74,0.103],
  [8.77,0.052],[8.81,0.011],[8.84,0.069],[8.87,0.091],[8.91,0.039],[8.94,0.063],[8.97,0.007],[8.99,0.087],[8.18,0.057],[8.38,0.041],[8.58,0.019],
  [8.78,0.034],[8.28,0.121],[8.48,0.114],[8.68,0.097],[8.88,0.079],[8.08,-0.006],[8.63,-0.009],
  [9.13,0.1],[9.47,0.0916],[9.05,0.09],[9.1,0.082],[9.15,0.074],[9.2,0.066],[9.25,0.058],[9.3,0.05],[9.35,0.042],[9.4,0.034],[9.45,0.026],
  [9.5,0.018],[9.55,0.01],[9.6,0.002],[9.65,-0.006],[9.02,0.04],[9.12,0.032],[9.22,0.024],[9.32,0.016],[9.42,0.008],[9.52,0.0],[9.08,0.06],
  [9.18,0.05],[9.28,0.07],[9.38,0.062],[9.48,0.054],[9.58,0.046],[9.68,0.038],[9.78,0.03],[9.88,0.022],[9.98,0.014],[9.6,0.078],[9.7,0.07],
  [9.8,0.062],[9.9,0.054],[9.95,0.046],[9.75,0.085],[9.85,0.077],[9.3,-0.012],[9.05,-0.008],[9.7,0.01],[9.85,-0.004],[9.95,0.004],[9.25,0.085],[9.4,0.078],
  [9.03,0.071],[9.06,0.019],[9.09,0.047],[9.13,0.086],[9.16,0.009],[9.19,0.058],[9.23,0.033],[9.26,0.077],[9.29,0.004],[9.33,0.053],[9.36,0.027],
  [9.39,0.069],[9.43,0.041],[9.46,0.083],[9.49,0.011],[9.53,0.061],[9.56,0.036],[9.59,0.057],[9.63,0.021],[9.66,0.049],[9.69,0.063],[9.73,0.007],
  [9.76,0.043],[9.79,0.071],[9.83,0.016],[9.86,0.038],[9.89,0.061],[9.93,0.027],[9.96,0.053],[9.99,0.034],[9.14,0.095],[9.34,0.089],[9.54,0.081],
  [9.21,-0.003],[9.61,-0.011],
  [10.05,0.07],[10.1,0.062],[10.15,0.054],[10.2,0.046],[10.25,0.038],[10.3,0.03],[10.35,0.022],[10.4,0.014],[10.45,0.006],[10.5,-0.002],
  [10.55,-0.01],[10.58,-0.024],[10.08,0.03],[10.18,0.022],[10.28,0.014],[10.38,0.006],[10.48,0.054],[10.58,0.046],[10.68,0.038],[10.78,0.03],
  [10.88,0.022],[10.98,0.014],[10.62,0.06],[10.72,0.052],[10.82,0.044],[10.92,0.036],[10.7,0.008],[10.8,0.0],[10.9,-0.008],[10.2,0.0],
  [10.3,-0.015],[10.12,0.078],[10.4,0.07],[10.95,0.05],
  [10.03,0.047],[10.07,0.011],[10.11,0.039],[10.14,0.063],[10.17,0.027],[10.21,0.056],[10.24,0.004],[10.27,0.043],[10.31,0.019],[10.34,0.061],
  [10.37,0.033],[10.41,-0.006],[10.44,0.047],[10.47,0.023],[10.51,0.036],[10.54,0.011],[10.57,0.053],[10.61,0.029],[10.64,-0.009],[10.67,0.041],
  [10.71,0.017],[10.74,0.033],[10.77,-0.013],[10.84,0.011],[10.93,0.026],
  [11.05,0.048],[11.1,0.04],[11.15,0.032],[11.2,0.024],[11.25,0.016],[11.3,0.008],[11.35,0.0],[11.4,-0.008],[11.28,-0.016],[11.12,0.01],
  [11.22,0.0],[11.45,0.03],[11.55,0.022],[11.65,0.014],[11.74,0.0183],[11.74,-0.021],[12.0,0.0042],[11.85,-0.004],[11.95,-0.012],[11.6,-0.005],
  [11.5,0.038],[11.8,0.028],[12.1,-0.018],[11.9,0.01],
  [11.03,0.031],[11.08,0.019],[11.13,-0.004],[11.18,0.039],[11.27,0.027],[11.33,-0.011],[11.42,0.013],[11.48,-0.017],[11.57,0.004],[11.67,-0.013],
  [11.78,0.008],[11.93,-0.021]
];
const empiricalC = [
  [1.21,0.117],[1.5,0.133],[1.21,0.079],[1.93,0.1225],[2.2,0.067],[2.33,0.079],[1.73,0.091],[1.63,0.083],[2.36,0.112],[2.36,0.107],[3.28,0.117],
  [3.48,0.114],[4.23,0.12],[4.44,0.128],[5.13,0.13],[5.33,0.121],[5.81,0.125],[6.29,0.136],[6.88,0.1375],[6.45,0.1225],[6.85,0.1225],[7.33,0.127],
  [7.83,0.124],[7.83,0.1057],[5.04,0.108],[4.4,0.05],[4.9,0.0465],[5.69,0.025],[6.51,0.0297],[8.1,0.0169],[8.56,0.0303],[9.09,0.0286],[7.97,0.0375],
  [8.59,0.0386],[7.77,0.0453],[8.23,0.0507],[8.56,0.046],[5.72,0.044],[6.49,0.044],
  [1.3,0.108],[1.45,0.1],[1.6,0.095],[1.7,0.105],[1.85,0.098],[1.95,0.102],[2.05,0.09],[2.15,0.085],[2.25,0.096],[2.4,0.1],[2.5,0.094],
  [1.55,0.088],[1.4,0.093],[1.8,0.08],[1.95,0.084],[2.1,0.109],[2.6,0.105],[2.75,0.101],[2.9,0.103],[3.05,0.099],[3.2,0.106],[3.4,0.1],
  [2.3,0.105],[1.65,0.11],[2.0,0.093],[1.9,0.087],
  [4.3,0.095],[4.4,0.085],[4.5,0.09],[4.55,0.078],[4.6,0.1],[4.7,0.072],[4.75,0.088],[4.8,0.065],[4.85,0.095],[4.9,0.058],[4.95,0.08],
  [5.0,0.07],[5.05,0.09],[5.1,0.062],[5.15,0.1],[5.2,0.078],[5.25,0.055],[5.3,0.085],[5.35,0.068],[5.4,0.095],[5.45,0.074],[5.5,0.06],
  [5.55,0.088],[5.6,0.105],[5.65,0.07],[5.7,0.082],[5.75,0.056],[5.8,0.095],[5.85,0.065],[5.9,0.112],[5.95,0.078],[6.0,0.088],[6.05,0.06],
  [6.1,0.1],[6.15,0.072],[6.2,0.084],[6.25,0.054],[6.3,0.118],[6.35,0.092],[6.4,0.066],[6.45,0.08],[6.5,0.1],[6.55,0.058],[6.6,0.088],
  [6.65,0.072],[6.7,0.094],[6.75,0.062],[6.8,0.082],[6.85,0.11],[6.9,0.07],[6.95,0.09],[7.0,0.056],[7.05,0.078],[7.1,0.096],[7.15,0.066],
  [7.2,0.084],[7.25,0.108],[7.3,0.062],[7.35,0.076],[7.4,0.092],[7.45,0.055],[7.5,0.07],[7.55,0.086],[7.6,0.1],[7.65,0.064],[7.7,0.078],
  [7.75,0.09],[7.8,0.058],[7.85,0.072],[7.9,0.084],[7.95,0.065],[8.0,0.076],[8.05,0.09],[8.1,0.06],[8.15,0.07],[8.2,0.082],[8.3,0.064],
  [8.35,0.075],[8.4,0.058],[8.5,0.068],[8.6,0.078],[8.7,0.062],[8.8,0.072],[8.9,0.066],[9.0,0.075],[6.15,0.112],[6.55,0.114],[7.0,0.115],
  [7.5,0.113],[6.2,0.122],[5.3,0.115],[4.7,0.112],[5.9,0.048],[6.3,0.04],[6.8,0.048],[7.2,0.042],[7.6,0.05],[6.6,0.076],[5.55,0.05],
  [5.0,0.085],[6.95,0.104],[7.95,0.1],[8.4,0.09],[8.75,0.085],[6.05,0.125],[5.65,0.118]
];
const empLinesC = [
  [[1.17,0.108],[9.07,0.0725]],
  [[1.17,0.0955],[8.5,0.0565]]
];
const empBandsC = [
  [[[1.17,0.097],[5,0.088],[9.07,0.067]], [[1.17,0.119],[5,0.094],[9.07,0.079]]],
  [[[1.17,0.086],[5,0.073],[8.5,0.051]], [[1.17,0.105],[5,0.079],[8.5,0.062]]]
];
const modLinesC = [
  [[2.22,0.156],[12.16,0.0054]],
  [[4.25,0.114],[11.25,0.0208]],
  [[5.72,0.0487],[11.71,-0.0143]]
];
const modBandsC = [
  [[[2.22,0.151],[7,0.082],[12.16,-0.002]], [[2.22,0.161],[7,0.088],[12.16,0.013]]],
  [[[4.25,0.110],[8,0.062],[11.25,0.015]], [[4.25,0.118],[8,0.066],[11.25,0.026]]],
  [[[5.72,0.043],[8.7,0.0135],[11.71,-0.022]], [[5.72,0.054],[8.7,0.021],[11.71,-0.006]]]
];

// ---------- helpers ----------
const FONT = '"Liberation Sans", Arial, sans-serif';
Chart.defaults.font.family = FONT;

const pts = a => a.map(p => ({ x: p[0], y: p[1] }));

function scatterSet(data, shape, r, fill, stroke, w) {
  return { type: 'scatter', data: pts(data), pointStyle: shape, pointRadius: r,
    pointBackgroundColor: fill, pointBorderColor: stroke, pointBorderWidth: w, showLine: false };
}
function lineSet(data, color, width) {
  return { type: 'line', data: pts(data), borderColor: color, borderWidth: width,
    pointRadius: 0, fill: false, tension: 0, borderCapStyle: 'butt' };
}
// lower edge pushed first, upper edge fills back to it
function bandSets(low, high, color) {
  return [
    { type: 'line', data: pts(low), borderColor: 'rgba(0,0,0,0)', borderWidth: 1, pointRadius: 0, fill: false },
    { type: 'line', data: pts(high), borderColor: 'rgba(0,0,0,0)', borderWidth: 1, pointRadius: 0, fill: '-1', backgroundColor: color }
  ];
}

const boxPlugin = {
  id: 'box',
  afterDraw(chart) {
    const { ctx, chartArea: a } = chart;
    ctx.save();
    ctx.strokeStyle = '#5a5a5a';
    ctx.lineWidth = 1;
    ctx.strokeRect(Math.round(a.left) + 0.5, Math.round(a.top) + 0.5, Math.round(a.right - a.left) - 1, Math.round(a.bottom - a.top) - 1);
    ctx.restore();
  }
};

function axisOpts(a, dir) {
  return {
    type: 'linear', min: a.min, max: a.max,
    afterBuildTicks: s => { s.ticks = a.ticks.map(v => ({ value: v })); },
    afterFit: s => { if (dir === 'x') s.height = a.size; else s.width = a.size; },
    grid: { drawOnChartArea: false, drawTicks: true, tickLength: 4, color: '#333', lineWidth: 1 },
    border: { display: false },
    ticks: { color: '#4d4d4d', font: { size: 12.5 }, padding: 2, autoSkip: false, maxRotation: 0,
      callback: v => a.fmt ? a.fmt(v) : String(v) },
    title: { display: true, text: a.title, color: '#1a1a1a', font: { size: 16 },
      padding: dir === 'x' ? { top: 0, bottom: 1.4 } : { top: a.tpad, bottom: 0 } }
  };
}

function makeChart(id, datasets, pad, xa, ya) {
  datasets.forEach((d, i) => { d.order = datasets.length - i; });
  return new Chart(document.getElementById(id), {
    type: 'scatter',
    data: { datasets },
    options: {
      responsive: false, animation: false, devicePixelRatio: 1, events: [],
      layout: { padding: pad },
      plugins: { legend: { display: false }, tooltip: { enabled: false } },
      scales: { x: axisOpts(xa, 'x'), y: axisOpts(ya, 'y') }
    },
    plugins: [boxPlugin]
  });
}

// ---------- panel A ----------
makeChart('chartA', [
  scatterSet(empiricalA, 'circle', 2.5, 'rgba(238,140,95,0.6)', 'rgba(215,95,45,0.85)', 0.8),
  ...bandSets(empBandLowA, empBandHighA, 'rgba(240,130,70,0.35)'),
  lineSet(empLineA, '#ee6414', 3),
  ...modLinesA.map(l => lineSet(l, '#175673', 2.6)),
  scatterSet(modelA, 'triangle', 4.6, '#2c6d8e', '#0d3a52', 1.2)
], { left: 0, right: 3, top: 12, bottom: 0 },
  { min: 9.5, max: 516.5, ticks: xTicksA, size: 41, title: 'Distance from land (km)' },
  { min: -0.42, max: 13.33, ticks: yTicksA, size: 69, tpad: 27.4, title: 'Trip duration (days)' });

// ---------- panel B ----------
makeChart('chartB', [
  scatterSet(modelB, 'triangle', 3.3, 'rgba(78,139,173,0.8)', 'rgba(22,80,110,0.9)', 0.8),
  scatterSet(empiricalB, 'circle', 4.7, '#f47d3b', '#b8501a', 1),
  ...bandSets(empBandLowB, empBandHighB, 'rgba(246,160,115,0.55)'),
  lineSet(empLineB, '#f07a2c', 3.2),
  ...modLinesB.map(l => lineSet(l, '#155775', 2.6))
], { left: 0, right: 3, top: 11, bottom: 0 },
  { min: -0.154, max: 15.51, ticks: xTicksB, size: 42, title: 'Trip duration (days)' },
  { min: 0.3305, max: 4.528, ticks: yTicksB, size: 71, tpad: 33.4, title: 'Land duration (days)' });

// ---------- panel C ----------
makeChart('chartC', [
  scatterSet(modelC, 'triangle', 3.4, 'rgba(45,110,150,0.85)', 'rgba(15,65,95,0.9)', 0.8),
  scatterSet(empiricalC, 'circle', 4.8, '#f47d3b', '#b8501a', 1),
  ...empBandsC.flatMap(b => bandSets(b[0], b[1], 'rgba(247,160,120,0.5)')),
  ...empLinesC.map(l => lineSet(l, '#c5531f', 2.6)),
  ...modBandsC.flatMap(b => bandSets(b[0], b[1], 'rgba(100,150,185,0.45)')),
  ...modLinesC.map(l => lineSet(l, '#124f6d', 2.6))
], { left: 0, right: 2, top: 11, bottom: 0 },
  { min: 0.653, max: 12.376, ticks: xTicksC, size: 41, title: 'Trip duration (days)' },
  { min: -0.0335, max: 0.1855, ticks: yTicksC, size: 72, tpad: 16, title: 'Pup growth (kg day\u207B\u00B9)', fmt: v => v.toFixed(2) });
</script>
</body>
</html>
